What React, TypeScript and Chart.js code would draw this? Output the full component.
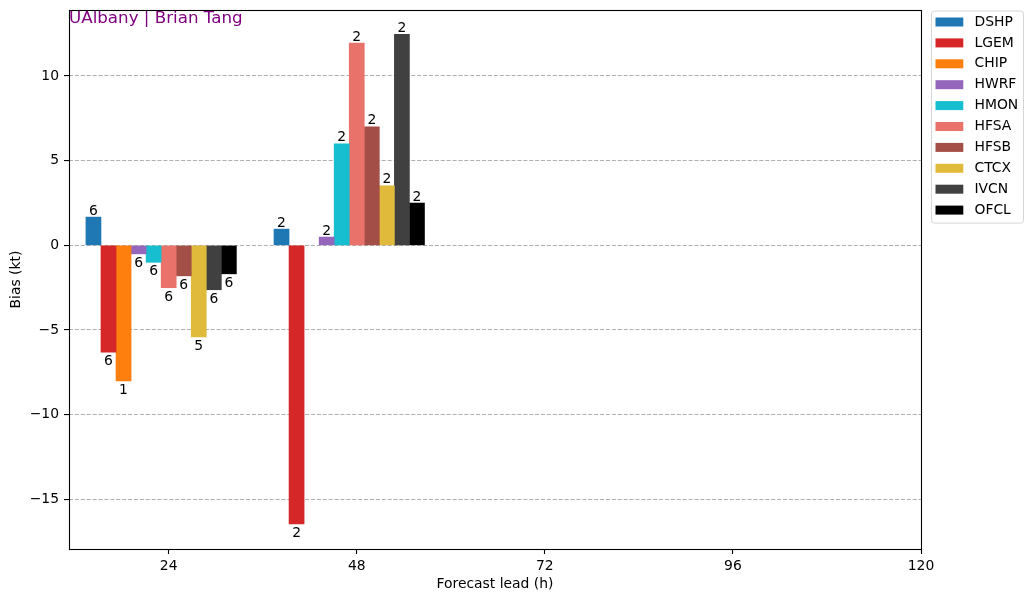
import { useEffect, useRef } from "react";
import { Chart, registerables } from "chart.js";

Chart.register(...registerables);

const FONT = "'DejaVu Sans', sans-serif";

const leads = [24, 48];
const models = ["DSHP", "LGEM", "CHIP", "HWRF", "HMON", "HFSA", "HFSB", "CTCX", "IVCN", "OFCL"];
const colors = [
  "#1f77b4",
  "#d62728",
  "#ff7f0e",
  "#9467bd",
  "#17becf",
  "#e9736a",
  "#a34f47",
  "#e0ba3a",
  "#404040",
  "#000000",
];
// bias (kt) per model at each lead
const bias24 = [1.67, -6.3, -8.0, -0.5, -1.0, -2.5, -1.8, -5.4, -2.62, -1.68];
const bias48 = [0.96, -16.45, null, 0.49, 6.0, 11.95, 7.0, 3.52, 12.47, 2.5];
// sample counts shown on the bars
const count24 = [6, 6, 1, 6, 6, 6, 6, 5, 6, 6];
const count48 = [2, 2, null, 2, 2, 2, 2, 2, 2, 2];
const xTicks = [24, 48, 72, 96, 120];
const yTicks = [-15, -10, -5, 0, 5, 10];

const biasByLead = [bias24, bias48];
const countByLead = [count24, count48];
const barW = (0.8 * 24) / models.length;

const minus = (v: number) => (v < 0 ? "\u2212" + Math.abs(v) : String(v));

const overlay = {
  id: "overlay",
  afterDatasetsDraw(chart: any) {
    const ctx = chart.ctx;
    ctx.save();
    ctx.font = `13.9px ${FONT}`;
    ctx.fillStyle = "#000";
    ctx.textAlign = "center";
    ctx.textBaseline = "alphabetic";
    chart.data.datasets.forEach((ds: any, i: number) => {
      const meta = chart.getDatasetMeta(i);
      meta.data.forEach((el: any, j: number) => {
        const n = countByLead[j][i];
        const v = ds.data[j].y;
        if (n == null || v == null) return;
        const y = v >= 0 ? el.y - 2.5 : el.y + 13;
        ctx.fillText(String(n), el.x, y);
      });
    });

    // axes frame
    const a = chart.chartArea;
    ctx.strokeStyle = "#000";
    ctx.lineWidth = 1.1;
    ctx.strokeRect(a.left + 0.5, a.top + 0.5, a.right - a.left, a.bottom - a.top);

    // credit text
    ctx.font = `16.7px ${FONT}`;
    ctx.fillStyle = "#800080";
    ctx.textAlign = "left";
    ctx.fillText("UAlbany | Brian Tang", a.left, a.top + 12.5);
    ctx.restore();
  },
  afterDraw(chart: any) {
    const ctx = chart.ctx;
    const a = chart.chartArea;
    const x0 = a.right + 10;
    const y0 = a.top + 0.5;
    const w = 92;
    const step = 20.9;
    const h = 12 + step * (models.length - 1) + 12;
    ctx.save();
    ctx.beginPath();
    ctx.roundRect(x0 + 0.5, y0 + 0.5, w, h, 3);
    ctx.fillStyle = "rgba(255,255,255,0.8)";
    ctx.fill();
    ctx.strokeStyle = "#d6d6d6";
    ctx.lineWidth = 1;
    ctx.stroke();
    ctx.font = `13.9px ${FONT}`;
    ctx.textAlign = "left";
    ctx.textBaseline = "middle";
    chart.data.datasets.forEach((ds: any, i: number) => {
      const cy = y0 + 11.5 + i * step;
      ctx.fillStyle = ds.backgroundColor;
      ctx.fillRect(x0 + 4.5, cy - 4.5, 27.8, 9);
      ctx.fillStyle = "#000";
      ctx.fillText(ds.label, x0 + 43.5, cy);
    });
    ctx.restore();
  },
};

export default function App() {
  const canvasRef = useRef<HTMLCanvasElement | null>(null);

  useEffect(() => {
    document.body.style.margin = "0";
    if (!canvasRef.current) {
      return;
    }

    const datasets = models.map((name, i) => ({
      label: name,
      data: leads.map((lead, j) => ({
        x: lead + (i - 5) * barW,
        y: biasByLead[j][i],
      })),
      backgroundColor: colors[i],
      borderWidth: 0,
    }));

    const chart = new Chart(canvasRef.current, {
      type: "bar",
      data: { datasets },
      options: {
        animation: false,
        responsive: true,
        maintainAspectRatio: false,
        layout: { padding: { top: 10, right: 112, bottom: 0, left: 0 } },
        datasets: {
          bar: { grouped: false, categoryPercentage: 1, barPercentage: 1 },
        },
        plugins: {
          legend: { display: false },
          tooltip: { enabled: false },
        },
        scales: {
          x: {
            type: "linear",
            min: 11.28,
            max: 120,
            offset: false,
            afterBuildTicks: (scale: any) => {
              scale.ticks = xTicks.map((v) => ({ value: v }));
            },
            afterFit: (scale: any) => {
              scale.height = 53;
              scale.paddingLeft = 0;
              scale.paddingRight = 0;
            },
            grid: {
              offset: false,
              drawOnChartArea: false,
              drawTicks: true,
              tickLength: 5,
              tickColor: "#000",
              tickWidth: 1.1,
            },
            border: { display: false },
            ticks: {
              padding: 4,
              color: "#000",
              font: { family: FONT, size: 13.9 },
              maxRotation: 0,
            },
            title: {
              display: true,
              text: "Forecast lead (h)",
              color: "#000",
              font: { family: FONT, size: 13.9 },
              padding: { top: 0, bottom: 9 },
            },
          },
          y: {
            min: -17.93,
            max: 13.9,
            afterBuildTicks: (scale: any) => {
              scale.ticks = yTicks.map((v) => ({ value: v }));
            },
            afterFit: (scale: any) => {
              scale.width = 69;
              scale.paddingTop = 0;
              scale.paddingBottom = 0;
            },
            grid: {
              color: "#b0b0b0",
              lineWidth: 1.1,
              drawTicks: true,
              tickLength: 5,
              tickColor: "#000",
              tickWidth: 1.1,
              tickBorderDash: [],
            },
            border: { display: false, dash: [4.1, 1.8] },
            ticks: {
              padding: 5,
              color: "#000",
              font: { family: FONT, size: 13.9 },
              callback: (v: any) => minus(Number(v)),
            },
            title: {
              display: true,
              text: "Bias (kt)",
              color: "#000",
              font: { family: FONT, size: 13.9 },
              padding: { top: 8, bottom: 0 },
            },
          },
        },
      },
      plugins: [overlay],
    });

    return () => {
      chart.destroy();
    };
  }, []);

  return (
    <div style={{ width: 1033, height: 602, position: "relative" }}>
      <canvas ref={canvasRef}></canvas>
    </div>
  );
}
